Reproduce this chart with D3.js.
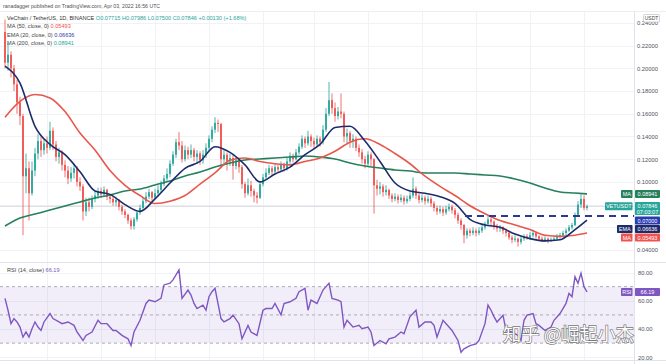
<!DOCTYPE html>
<html><head><meta charset="utf-8">
<script src="https://cdn.jsdelivr.net/npm/d3@7"></script>
<style>html,body{margin:0;padding:0;background:#fff;overflow:hidden}svg{display:block;font-family:"Liberation Sans",Arial,sans-serif}</style>
</head><body><svg id="c" width="666" height="364"></svg>
<script>
// ---------- DATA ----------
const firstOpen = 0.232;
const closes = [
0.205,0.212,0.200,0.186,0.170,0.158,0.105,0.112,0.090,0.110,
0.125,0.136,0.128,0.134,0.130,0.145,0.133,0.122,0.126,0.115,
0.110,0.103,0.108,0.112,0.100,0.096,0.074,0.082,0.078,0.085,
0.088,0.092,0.089,0.093,0.087,0.085,0.082,0.084,0.078,0.074,
0.071,0.066,0.061,0.067,0.073,0.077,0.083,0.087,0.091,0.086,
0.090,0.093,0.098,0.103,0.107,0.116,0.124,0.135,0.132,0.120,
0.128,0.124,0.128,0.122,0.125,0.119,0.124,0.130,0.138,0.146,
0.152,0.151,0.120,0.124,0.118,0.121,0.114,0.119,0.113,0.098,
0.090,0.097,0.092,0.088,0.086,0.098,0.104,0.108,0.112,0.109,
0.113,0.111,0.115,0.112,0.118,0.123,0.120,0.126,0.131,0.138,
0.134,0.140,0.136,0.133,0.138,0.135,0.146,0.160,0.172,0.165,
0.158,0.162,0.160,0.140,0.143,0.136,0.138,0.130,0.126,0.120,
0.116,0.124,0.120,0.097,0.094,0.096,0.091,0.093,0.088,0.085,
0.087,0.084,0.086,0.083,0.085,0.088,0.094,0.088,0.084,0.086,
0.083,0.085,0.081,0.077,0.074,0.076,0.073,0.076,0.078,0.075,
0.071,0.066,0.062,0.053,0.057,0.055,0.057,0.055,0.057,0.060,
0.063,0.067,0.065,0.061,0.059,0.060,0.057,0.055,0.051,0.049,
0.050,0.047,0.050,0.052,0.051,0.053,0.055,0.052,0.050,0.049,
0.050,0.048,0.049,0.050,0.052,0.053,0.055,0.057,0.060,0.062,
0.071,0.080,0.085,0.077,0.07846];
const highs = [
0.243,0.222,0.215,0.203,0.190,0.175,0.160,0.125,0.118,0.118,
0.130,0.142,0.140,0.138,0.140,0.153,0.148,0.136,0.130,0.128,
0.119,0.114,0.113,0.116,0.114,0.104,0.098,0.086,0.086,0.088,
0.092,0.095,0.095,0.096,0.094,0.089,0.087,0.087,0.085,0.080,
0.076,0.072,0.068,0.069,0.075,0.080,0.086,0.091,0.094,0.092,
0.094,0.097,0.101,0.106,0.112,0.119,0.127,0.138,0.144,0.136,
0.132,0.131,0.133,0.130,0.128,0.127,0.128,0.134,0.141,0.149,
0.157,0.155,0.152,0.128,0.126,0.125,0.124,0.122,0.121,0.115,
0.100,0.103,0.101,0.094,0.091,0.100,0.107,0.112,0.115,0.114,
0.116,0.115,0.118,0.117,0.121,0.126,0.125,0.129,0.134,0.141,
0.140,0.145,0.142,0.139,0.141,0.140,0.150,0.165,0.188,0.178,
0.170,0.166,0.178,0.162,0.147,0.145,0.142,0.140,0.133,0.129,
0.123,0.127,0.126,0.121,0.102,0.100,0.098,0.097,0.094,0.090,
0.090,0.089,0.089,0.088,0.088,0.091,0.104,0.096,0.090,0.089,
0.088,0.088,0.087,0.083,0.079,0.079,0.078,0.079,0.081,0.080,
0.077,0.073,0.068,0.063,0.059,0.059,0.060,0.059,0.060,0.062,
0.065,0.070,0.069,0.066,0.063,0.062,0.061,0.059,0.056,0.053,
0.053,0.051,0.052,0.054,0.054,0.056,0.058,0.056,0.053,0.052,
0.052,0.051,0.051,0.052,0.054,0.055,0.057,0.059,0.062,0.064,
0.073,0.083,0.090,0.088,0.080];
const lows = [
0.200,0.198,0.192,0.180,0.160,0.150,0.053,0.090,0.066,0.088,
0.105,0.120,0.122,0.124,0.125,0.128,0.128,0.118,0.116,0.110,
0.104,0.098,0.100,0.103,0.096,0.092,0.066,0.070,0.074,0.076,
0.082,0.085,0.086,0.087,0.084,0.081,0.079,0.079,0.075,0.071,
0.068,0.063,0.058,0.058,0.065,0.071,0.075,0.081,0.085,0.083,
0.085,0.087,0.091,0.096,0.101,0.104,0.114,0.121,0.128,0.117,
0.118,0.120,0.121,0.118,0.116,0.115,0.116,0.121,0.128,0.135,
0.143,0.144,0.112,0.114,0.110,0.114,0.102,0.111,0.108,0.094,
0.086,0.088,0.087,0.082,0.081,0.085,0.096,0.102,0.106,0.106,
0.107,0.108,0.109,0.109,0.110,0.116,0.117,0.119,0.124,0.129,
0.130,0.132,0.131,0.129,0.131,0.131,0.133,0.144,0.158,0.160,
0.153,0.155,0.156,0.135,0.133,0.130,0.130,0.127,0.122,0.116,
0.112,0.114,0.114,0.072,0.088,0.089,0.087,0.088,0.085,0.082,
0.083,0.081,0.082,0.080,0.081,0.083,0.086,0.085,0.081,0.082,
0.080,0.081,0.078,0.074,0.071,0.072,0.070,0.071,0.074,0.072,
0.068,0.063,0.058,0.046,0.050,0.052,0.053,0.052,0.053,0.055,
0.058,0.061,0.062,0.058,0.056,0.056,0.054,0.052,0.049,0.046,
0.047,0.043,0.045,0.048,0.049,0.049,0.051,0.050,0.048,0.047,
0.047,0.046,0.047,0.048,0.049,0.050,0.051,0.053,0.056,0.058,
0.061,0.069,0.077,0.075,0.075];

const maDays = [0,5,10,15,20,25,30,35,40,45,50,55,60,65,70,75,80,85,90,95,100,105,110,115,120,125,130,135,140,145,150,155,160,165,170,175,180,185,190,194];
const ema20 = [0.202,0.187,0.149,0.133,0.124,0.109,0.092,0.089,0.080,0.074,
0.085,0.099,0.112,0.118,0.131,0.126,0.115,0.100,0.107,0.113,
0.124,0.133,0.148,0.149,0.136,0.118,0.099,0.092,0.090,0.087,
0.081,0.067,0.062,0.060,0.054,0.050,0.048,0.049,0.058,0.0664];
const ma50 = [0.157,0.171,0.177,0.174,0.162,0.143,0.128,0.110,0.097,0.088,
0.081,0.083,0.088,0.098,0.108,0.119,0.121,0.118,0.116,0.115,
0.118,0.121,0.127,0.135,0.138,0.133,0.125,0.116,0.105,0.096,
0.088,0.079,0.072,0.066,0.062,0.058,0.053,0.052,0.053,0.0549];
const ma200 = [0.0611,0.0682,0.0717,0.0752,0.0788,0.0823,0.0858,0.0885,0.0920,0.0937,
0.0973,0.1008,0.1052,0.1087,0.1131,0.1167,0.1193,0.1202,0.1211,0.1219,
0.1228,0.1219,0.1202,0.1167,0.1140,0.1122,0.1105,0.1096,0.1078,0.1078,
0.1078,0.1070,0.1061,0.1052,0.1026,0.0990,0.0946,0.0911,0.0902,0.0894];

const rsiDays = [0,1,2,3,4,5,6,7,8,9,10,11,12,13,15,16,18,19,21,23,24,26,27,29,31,32,34,36,37,39,41,42,43,45,47,48,50,52,53,55,56,58,59,61,62,63,64,66,67,68,69,70,72,73,75,76,78,79,81,82,84,86,87,89,90,92,93,95,97,98,100,101,102,104,106,107,108,109,111,112,113,114,116,118,119,121,122,123,125,127,128,130,132,133,135,136,137,138,140,142,143,144,146,148,149,151,152,153,155,157,158,160,161,162,163,164,166,167,169,171,172,173,174,176,177,178,180,182,183,185,187,188,189,190,191,192,193,194];
const rsiValues = [61.7,53.3,43.8,47.4,45,41.4,34.3,37.9,34.3,40.2,45,41.4,39,45,51,47.4,45,43.8,45,42.6,37.9,31.9,35.5,37.9,46.2,43.8,43.8,39,39,35.5,33.1,28.3,37.9,46.2,58.1,60.5,59.3,61.7,71.2,72.4,74.8,81.9,61.7,67.6,64.0,58.1,54.5,56.9,53.3,62.9,66.4,68.8,47.4,45,47.4,49.8,43.8,33.1,42.6,37.9,35.5,53.3,54.5,54.5,58.1,50,58.1,59.3,61.7,66.4,68.8,53.3,60.5,58.1,67.6,70,72.4,61.7,60.5,59.3,41.4,46.2,41.4,42.6,40.2,41.4,37.9,28.3,31.9,29.5,33.1,34.3,37.9,36.7,48.8,51,53.3,41.4,45,45,42.6,34.3,46.2,41.4,39,31.9,23.6,26,28.3,29.5,31.9,43.8,56.9,53.3,48.8,45,49.8,39,37.9,35.5,31.9,46.2,49.8,51,43.8,42.6,39,41.4,46.2,51,58.1,65.2,62.9,77.1,72.4,79.5,70,66.19];

const priceTicks = [0.04,0.06,0.08,0.10,0.12,0.14,0.16,0.18,0.20,0.22,0.24];
const rsiTicks = [20,40,60,80];
const rsiBands = [70,50,30];
const timeTicks = [14,32,50,68,86,103,121,139,157,175,193];
const keyLevel = 0.07;
const last = {ma200:0.08941, close:0.07846, ema20:0.06636, ma50:0.05493, rsi:66.19};

// ---------- CHART ----------
const svg = d3.select('#c');
const PR = 634;               // right edge of panes
const x = d3.scaleLinear().domain([0,194]).range([5,587]);
const y = d3.scaleLinear().domain([0.04,0.24]).range([250,23]);
const yR = d3.scaleLinear().domain([20,80]).range([357.3,272.5]);
const UP='#26a69a', DN='#ef5350', EMAC='#1d2b6b', MA50C='#e8574c', MA200C='#26805c', RSIC='#7e57c2';

// grids
const g = svg.append('g');
g.selectAll('.hg').data(priceTicks).join('line').attr('x1',0).attr('x2',PR)
 .attr('y1',d=>Math.round(y(d))+0.5).attr('y2',d=>Math.round(y(d))+0.5).attr('stroke','#f0f2f6');
g.selectAll('.rg').data(rsiTicks).join('line').attr('x1',0).attr('x2',PR)
 .attr('y1',d=>Math.round(yR(d))+0.5).attr('y2',d=>Math.round(yR(d))+0.5).attr('stroke','#f0f2f6');
g.selectAll('.vg').data(timeTicks).join('line').attr('y1',12).attr('y2',360)
 .attr('x1',d=>Math.round(x(d))+0.5).attr('x2',d=>Math.round(x(d))+0.5).attr('stroke','#f0f2f6');

// borders
svg.append('line').attr('x1',0).attr('x2',666).attr('y1',11.5).attr('y2',11.5).attr('stroke','#eceef2');
svg.append('line').attr('x1',0).attr('x2',666).attr('y1',262.5).attr('y2',262.5).attr('stroke','#e0e3eb');
svg.append('line').attr('x1',0).attr('x2',666).attr('y1',360.5).attr('y2',360.5).attr('stroke','#e0e3eb');
svg.append('line').attr('x1',PR+0.5).attr('x2',PR+0.5).attr('y1',11).attr('y2',364).attr('stroke','#e0e3eb');

// clip for main pane
svg.append('clipPath').attr('id','mp').append('rect').attr('x',0).attr('y',12).attr('width',PR).attr('height',250);
const main = svg.append('g').attr('clip-path','url(#mp)');

// last price line
main.append('line').attr('x1',0).attr('x2',PR).attr('y1',y(last.close)).attr('y2',y(last.close)).attr('stroke','#cfd2d8').attr('stroke-width',0.8);

// candles
const candles = closes.map((c,i)=>({i, o: i===0?firstOpen:closes[i-1], c, h: highs[i], l: lows[i]}));
const cg = main.append('g');
cg.selectAll('.w').data(candles).join('line')
 .attr('x1',d=>x(d.i)).attr('x2',d=>x(d.i))
 .attr('y1',d=>y(Math.max(d.h,d.o,d.c))).attr('y2',d=>y(Math.min(d.l,d.o,d.c)))
 .attr('stroke',d=>d.c>=d.o?UP:DN).attr('stroke-width',0.9).attr('opacity',0.9);
cg.selectAll('.b').data(candles).join('rect')
 .attr('x',d=>x(d.i)-1).attr('width',2)
 .attr('y',d=>y(Math.max(d.o,d.c))).attr('height',d=>Math.max(1,Math.abs(y(d.o)-y(d.c))))
 .attr('fill',d=>d.c>=d.o?UP:DN).attr('opacity',0.9);

// moving averages
const lineGen = arr => d3.line().x((d,k)=>x(maDays[k])).y(d=>y(d)).curve(d3.curveMonotoneX)(arr);
main.append('path').attr('d',lineGen(ma200)).attr('fill','none').attr('stroke',MA200C).attr('stroke-width',1.6);
main.append('path').attr('d',lineGen(ma50)).attr('fill','none').attr('stroke',MA50C).attr('stroke-width',1.6);
main.append('path').attr('d',lineGen(ema20)).attr('fill','none').attr('stroke',EMAC).attr('stroke-width',1.6);

// key level dashed line
main.append('line').attr('x1',465).attr('x2',PR).attr('y1',y(keyLevel)).attr('y2',y(keyLevel))
 .attr('stroke','#2c3a8c').attr('stroke-width',2).attr('stroke-dasharray','7,5');

// RSI pane
svg.append('rect').attr('x',0).attr('width',PR).attr('y',yR(70)).attr('height',yR(30)-yR(70)).attr('fill',RSIC).attr('opacity',0.1);
svg.selectAll('.band').data(rsiBands).join('line').attr('x1',0).attr('x2',PR)
 .attr('y1',d=>yR(d)).attr('y2',d=>yR(d)).attr('stroke','#9a9ca6').attr('stroke-width',0.8).attr('stroke-dasharray','3,3');
svg.append('path').attr('d',d3.line().x((d,k)=>x(rsiDays[k])).y(d=>yR(d))(rsiValues))
 .attr('fill','none').attr('stroke',RSIC).attr('stroke-width',1.4);

// axes
const ay = svg.append('g').attr('transform',`translate(${PR+3},0)`)
 .call(d3.axisRight(y).tickValues(priceTicks).tickFormat(d3.format('.5f')).tickSize(0).tickPadding(0));
const ar = svg.append('g').attr('transform',`translate(${PR+4},0)`)
 .call(d3.axisRight(yR).tickValues(rsiTicks).tickFormat(d3.format('.2f')).tickSize(0).tickPadding(0));
[ay,ar].forEach(a=>{a.select('.domain').remove();a.selectAll('text').attr('font-size',5.8).attr('fill','#50535e').attr('font-family','"Liberation Sans",Arial,sans-serif');});

// USDT box
svg.append('rect').attr('x',643.5).attr('y',14.5).attr('width',16).attr('height',7.5).attr('fill','#fff').attr('stroke','#b2b5be').attr('stroke-width',0.6).attr('rx',1);
svg.append('text').attr('x',651.5).attr('y',20.3).attr('text-anchor','middle').attr('font-size',5).attr('fill','#444').text('USDT');

// tags
function tag(x0,w,yc,h,fill,lines){
  svg.append('rect').attr('x',x0).attr('y',yc-h/2).attr('width',w).attr('height',h).attr('fill',fill).attr('rx',0.8);
  lines.forEach((t,k)=>svg.append('text').attr('x',x0+w/2).attr('y',yc-h/2+6+k*6.2)
    .attr('text-anchor','middle').attr('font-size',5.5).attr('fill','#fff').text(t));
}
tag(621,11.5,y(last.ma200),8,MA200C,['MA']);
tag(635,25,y(last.ma200),8,MA200C,[d3.format('.5f')(last.ma200)]);
tag(605,27.5,y(last.close),8,UP,['VETUSDT']);
tag(635,25,208.5,13,UP,[d3.format('.5f')(last.close),'07:03:07']);
tag(635,25,220.5,8,'#2a3bb0',[d3.format('.5f')(keyLevel)]);
tag(617,15.5,229,8,EMAC,['EMA']);
tag(635,25,229,8,EMAC,[d3.format('.5f')(last.ema20)]);
tag(621,11.5,237.5,8,DN,['MA']);
tag(635,25,237.5,8,DN,[d3.format('.5f')(last.ma50)]);
tag(621,11.5,yR(last.rsi),8,RSIC,['RSI']);
tag(635,25,yR(last.rsi),8,RSIC,[d3.format('.2f')(last.rsi)]);

// legends
const fs = 5.6;
function txt(xp,yp,parts,size){
  const t = svg.append('text').attr('x',xp).attr('y',yp).attr('font-size',size||fs);
  parts.forEach(p=>t.append('tspan').attr('fill',p[1]).text(p[0]));
}
txt(3,8,[['ranadagger published on TradingView.com, Apr 03, 2022 16:56 UTC','#505050']],5.2);
txt(7,19.5,[['VeChain / TetherUS, 1D, BINANCE  ','#333'],['O0.07715  H0.07986  L0.07500  C0.07846  +0.00130 (+1.68%)',UP]]);
txt(7,28,[['MA (50, close, 0)  ','#444'],[d3.format('.5f')(last.ma50),DN]]);
txt(7,36.5,[['EMA (20, close, 0)  ','#444'],[d3.format('.5f')(last.ema20),'#2a3bb0']]);
txt(7,45,[['MA (200, close, 0)  ','#444'],[d3.format('.5f')(last.ma200),UP]]);
txt(7,272,[['RSI (14, close)  ','#444'],[d3.format('.2f')(last.rsi),RSIC]]);

// watermark
svg.append('text').attr('x',503).attr('y',341).attr('font-size',18.3)
 .attr('font-family','"Noto Sans CJK SC",sans-serif').attr('fill','#fff')
 .attr('stroke','#777').attr('stroke-width',1.3).attr('paint-order','stroke')
 .text('知乎 @崛起小杰');
</script></body></html>
